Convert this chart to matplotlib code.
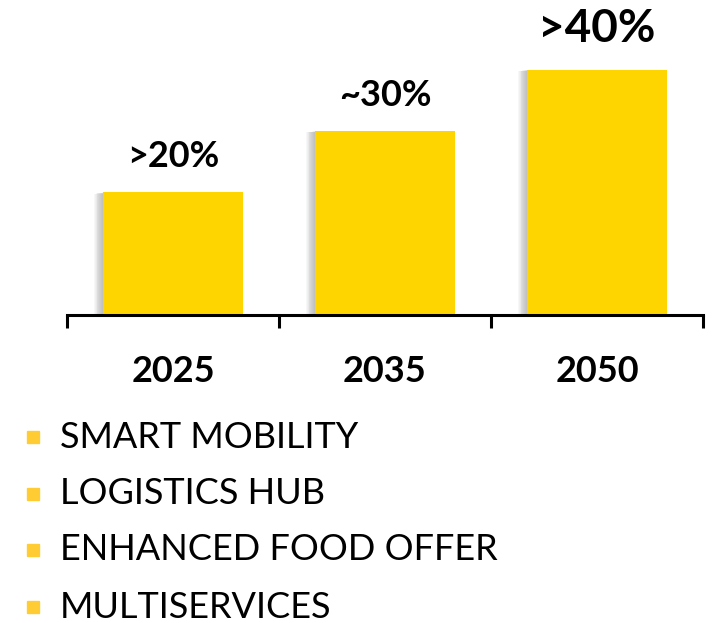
import matplotlib
matplotlib.use("Agg")
import matplotlib.pyplot as plt
import numpy as np

years = ["2025", "2035", "2050"]
values = [20, 30, 40]
labels = [">20%", "~30%", ">40%"]
bullets = ["SMART MOBILITY", "LOGISTICS HUB", "ENHANCED FOOD OFFER", "MULTISERVICES"]

plt.rcParams['font.family'] = ['Lato', 'DejaVu Sans']

W, H = 713, 623
fig = plt.figure(figsize=(W/100, H/100), dpi=100)
ax = fig.add_axes([67/W, (H-315)/H, (703-67)/W, 315/H])
ax.set_xlim(-0.5, 2.5)
ax.set_ylim(0, 315/6.13)

x = np.arange(len(years))
bw = 0.665
# soft shadow on left side
nsh = 10
for k in range(nsh):
    off = (k + 1) * 0.004
    ax.bar(x - off, [v - 0.25 * k * 0.1 for v in values], width=bw, color='#707070',
           alpha=0.05, linewidth=0, zorder=1)
ax.bar(x, values, width=bw, color='#FFD500', linewidth=0, zorder=2)

for i, (v, lab) in enumerate(zip(values, labels)):
    fs = 26 if i < 2 else 33
    ax.annotate(lab, (x[i], v), xytext=(0, 14), textcoords='offset points',
                ha='center', va='bottom', fontsize=fs, fontweight='bold', color='black')

for s in ['top', 'right', 'left']:
    ax.spines[s].set_visible(False)
ax.spines['bottom'].set_linewidth(2.2)
ax.set_yticks([])
ax.set_xticks([-0.5, 0.5, 1.5, 2.5])
ax.set_xticklabels([])
ax.tick_params(axis='x', direction='out', length=9, width=2.2)
for i, y in enumerate(years):
    ax.text(x[i], -0.18, y, transform=ax.get_xaxis_transform(), ha='center', va='center',
            fontsize=26, fontweight='bold')

ys = [437, 494, 550, 607]
for t, yp in zip(bullets, ys):
    fig.patches.append(plt.Rectangle((27/W, (H-yp-6)/H), 12/W, 12/H, transform=fig.transFigure,
                                     color='#FFCC33', figure=fig))
    fig.text(60/W, (H-yp)/H, t, ha='left', va='center', fontsize=26, color='black')

fig.savefig('out.png', dpi=100)
